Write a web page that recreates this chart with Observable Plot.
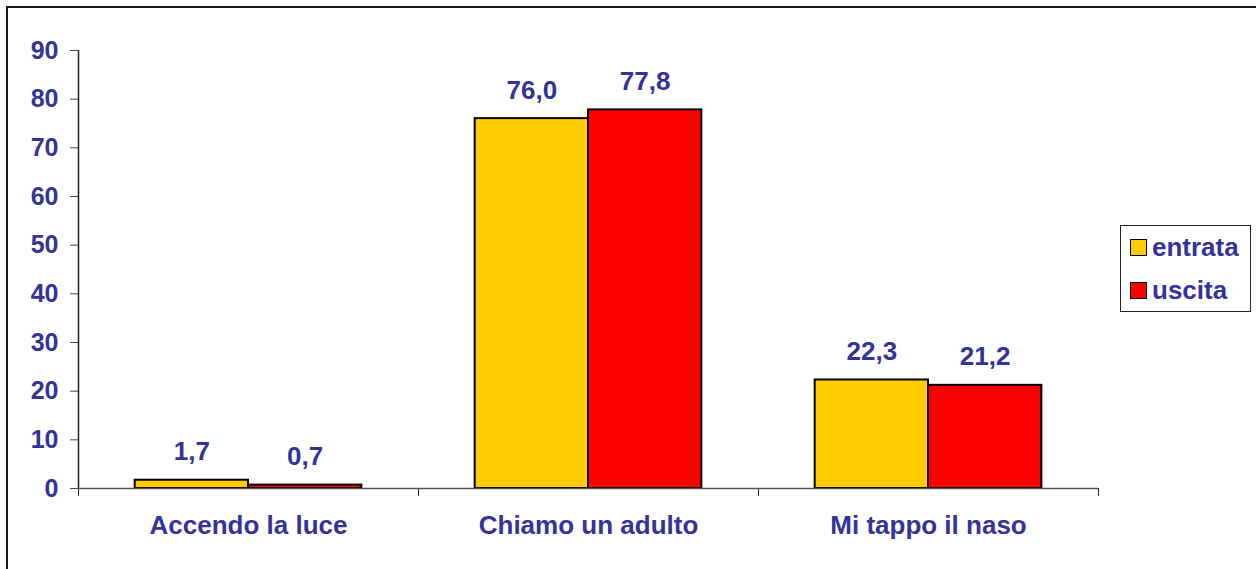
<!DOCTYPE html>
<html>
<head>
<meta charset="utf-8">
<script src="https://cdn.jsdelivr.net/npm/d3@7"></script>
<script src="https://cdn.jsdelivr.net/npm/@observablehq/plot@0.6"></script>
<style>
  html, body { margin: 0; padding: 0; background: #fff; overflow: hidden; }
  #wrap { position: relative; width: 1256px; height: 569px; font-family: "Liberation Sans", Arial, sans-serif; }
  #frame { position: absolute; left: 6px; top: 6px; width: 1300px; height: 620px; border-left: 2px solid #1a1a1a; border-top: 2px solid #1a1a1a; pointer-events: none; }
  #legend { position: absolute; left: 1120px; top: 225px; width: 131px; height: 87px; border: 1.5px solid #222; box-sizing: border-box; }
  .item { position: absolute; left: 9px; display: flex; align-items: center; font-weight: bold; font-size: 26px; color: #333399; }
  .sw { width: 15px; height: 15px; border: 1.5px solid #000; margin-right: 5px; }
</style>
</head>
<body>
<div id="wrap"><div id="frame"></div></div>
<script>
const categories = ["Accendo la luce", "Chiamo un adulto", "Mi tappo il naso"];
const series = ["entrata", "uscita"];
const entrata = [1.7, 76.0, 22.3];
const uscita = [0.7, 77.8, 21.2];
const colors = ["#FFCC00", "#FF0000"];
const yTicks = [0, 10, 20, 30, 40, 50, 60, 70, 80, 90];

const rows = [];
categories.forEach((c, i) => {
  rows.push({cat: c, ci: i, s: 0, series: series[0], value: entrata[i]});
  rows.push({cat: c, ci: i, s: 1, series: series[1], value: uscita[i]});
});
const fmt = v => v.toFixed(1).replace(".", ",");
const textColor = "#333399";

const chart = Plot.plot({
  width: 1256,
  height: 569,
  marginLeft: 78,
  marginRight: 158,
  marginTop: 50,
  marginBottom: 81,
  style: {fontFamily: "'Liberation Sans', Arial, sans-serif", background: "transparent"},
  x: {domain: [0, categories.length], axis: null},
  y: {domain: [0, 90], axis: null},
  color: {domain: series, range: colors},
  marks: [
    Plot.rect(rows, {
      x1: d => d.ci + 1/6 + d.s / 3,
      x2: d => d.ci + 1/6 + (d.s + 1) / 3,
      y1: 0,
      y2: "value",
      fill: "series",
      stroke: "#000",
      strokeWidth: 2
    }),
    Plot.text(rows, {
      x: d => d.ci + 1/3 + d.s / 3,
      y: "value",
      text: d => fmt(d.value),
      lineAnchor: "bottom",
      dy: -20,
      fontSize: 26,
      fontWeight: "bold",
      fill: textColor
    }),
    Plot.axisY({
      ticks: yTicks,
      tickSize: 8,
      tickPadding: 12,
      fontSize: 25,
      fontWeight: "bold",
      fill: textColor,
      stroke: "#444",
      label: null
    }),
    Plot.axisX({
      ticks: categories.map((c, i) => i + 0.5),
      tickFormat: v => categories[Math.floor(v)],
      tickSize: 0,
      tickPadding: 27,
      fontSize: 26,
      fontWeight: "bold",
      fill: textColor,
      label: null
    }),
    Plot.axisX({
      ticks: d3.range(categories.length + 1),
      tickFormat: () => "",
      tickSize: 8,
      stroke: "#222",
      label: null
    }),
    Plot.ruleX([0], {y1: 0, y2: 90, stroke: "#222", strokeWidth: 1.5}),
    Plot.ruleY([0], {stroke: "#555", strokeWidth: 1.5})
  ]
});
chart.style.position = "absolute";
chart.style.left = "0px";
chart.style.top = "0px";
const wrap = document.getElementById("wrap");
wrap.appendChild(chart);

const legend = document.createElement("div");
legend.id = "legend";
series.forEach((s, i) => {
  const item = document.createElement("div");
  item.className = "item";
  item.style.top = (i === 0 ? 6 : 49) + "px";
  const sw = document.createElement("div");
  sw.className = "sw";
  sw.style.background = colors[i];
  item.appendChild(sw);
  const t = document.createElement("span");
  t.textContent = s;
  item.appendChild(t);
  legend.appendChild(item);
});
wrap.appendChild(legend);
</script>
</body>
</html>
